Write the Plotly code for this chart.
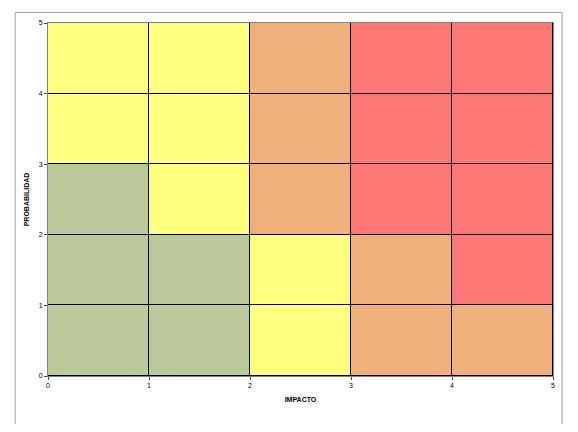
import plotly.graph_objects as go

# risk level per cell: 0 green, 1 yellow, 2 orange, 3 red (rows from bottom)
impacto = [0.5, 1.5, 2.5, 3.5, 4.5]
probabilidad = [0.5, 1.5, 2.5, 3.5, 4.5]
nivel = [
    [0, 0, 1, 2, 2],
    [0, 0, 1, 2, 3],
    [0, 1, 2, 3, 3],
    [1, 1, 2, 3, 3],
    [1, 1, 2, 3, 3],
]
colores = ["#bbc89a", "#ffff80", "#f0b07c", "#ff7878"]

scale = []
for i, c in enumerate(colores):
    scale.append([i / 4, c])
    scale.append([(i + 1) / 4, c])

fig = go.Figure(go.Heatmap(
    x=impacto, y=probabilidad, z=nivel, zmin=-0.5, zmax=3.5,
    colorscale=scale, showscale=False, xgap=1, ygap=1, hoverinfo="skip",
))

font = dict(size=7, family="Arial", color="black")
axis = dict(range=[0, 5], dtick=1, showgrid=False, zeroline=False,
            ticks="outside", ticklen=3, tickfont=font,
            showline=True, linecolor="#808080", mirror=True)
fig.update_xaxes(**axis, title=dict(text="<b>IMPACTO</b>", font=font, standoff=8))
fig.update_yaxes(**axis, title=dict(text="<b>PROBABILIDAD</b>", font=font, standoff=8))

fig.update_layout(
    autosize=True,
    margin=dict(l=40, r=17, t=15, b=48),
    plot_bgcolor="black", paper_bgcolor="white",
    shapes=[dict(type="rect", xref="paper", yref="paper", x0=-0.065, x1=1.018,
                 y0=-0.17, y1=1.03, line=dict(color="#a0a0a0", width=1))],
)
fig.write_html("out.html", default_width="100%", default_height="100%")
